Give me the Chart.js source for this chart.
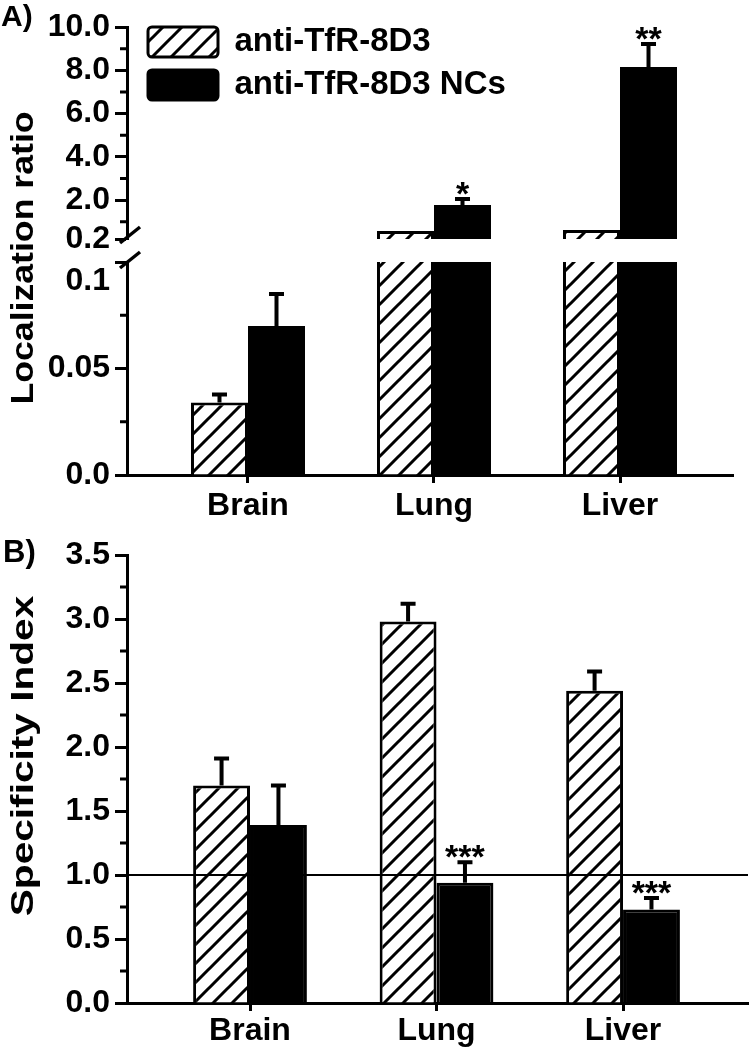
<!DOCTYPE html>
<html>
<head>
<meta charset="utf-8">
<script src="https://cdn.jsdelivr.net/npm/chart.js@4.4.1/dist/chart.umd.min.js"></script>
<style>
  body { margin: 0; background: #fff; }
  #wrap { position: relative; width: 749px; height: 1050px; overflow: hidden; }
  #wrap canvas { position: absolute; left: 0; top: 0; }
  .lbl { position: absolute; font-family: 'Liberation Sans', Arial, sans-serif; font-weight: bold; color: #000; white-space: nowrap; line-height: 1; }
</style>
</head>
<body>
<div id="wrap">
  <canvas id="chartA1" width="749" height="1050"></canvas>
  <canvas id="chartA2" width="749" height="1050"></canvas>
  <canvas id="chartB" width="749" height="1050"></canvas>
  <div class="lbl" style="left:1px; top:1px; font-size:30px;">A)</div>
  <div class="lbl" style="left:3px; top:536px; font-size:31px;">B)</div>
  <div class="lbl" style="left:22px; top:258px; font-size:31px; transform: translate(-50%,-50%) rotate(-90deg) scaleX(1.15);">Localization ratio</div>
  <div class="lbl" style="left:22px; top:756px; font-size:31px; transform: translate(-50%,-50%) rotate(-90deg) scaleX(1.31);">Specificity Index</div>
</div>
<script>
// categories and series
const organs = ['Brain', 'Lung', 'Liver'];
const seriesNames = ['anti-TfR-8D3', 'anti-TfR-8D3 NCs'];

// A) localization ratio (mean, SD, significance)
const locFree = [0.034, 0.57, 0.62];
const locFreeErr = [0.0038, 0, 0];
const locNC = [0.070, 1.77, 8.15];
const locNCErr = [0.015, 0.28, 1.06];
const locNCSig = ['', '*', '**'];

// B) specificity index
const specFree = [1.70, 2.98, 2.44];
const specFreeErr = [0.21, 0.14, 0.15];
const specNC = [1.39, 0.94, 0.73];
const specNCErr = [0.31, 0.16, 0.09];
const specNCSig = ['', '***', '***'];
const specRef = 1.0;

// y ticks (A is a broken axis: upper and lower part)
const ticksA1 = [0.2, 2, 4, 6, 8, 10];
const tickLabelsA1 = ['0.2', '2.0', '4.0', '6.0', '8.0', '10.0'];
const minorA1 = [1, 3, 5, 7, 9];
const ticksA2 = [0, 0.05, 0.1];
const tickLabelsA2 = ['0.0', '0.05', '0.1'];
const minorA2 = [0.025, 0.075];
const ticksB = [0, 0.5, 1, 1.5, 2, 2.5, 3, 3.5];
const tickLabelsB = ['0.0', '0.5', '1.0', '1.5', '2.0', '2.5', '3.0', '3.5'];
const minorB = [0.25, 0.75, 1.25, 1.75, 2.25, 2.75, 3.25];

Chart.defaults.font.family = "'Liberation Sans', Arial, sans-serif";
Chart.defaults.font.weight = 'bold';
Chart.defaults.color = '#000';
Chart.defaults.animation = false;

const pts = vals => vals.map((v, i) => ({ x: i + 1, y: v }));

// diagonal hatch fill
function hatch(ctx) {
    const s = 19;
    const c = document.createElement('canvas');
    c.width = s;
    c.height = s;
    const g = c.getContext('2d');
    g.fillStyle = '#fff';
    g.fillRect(0, 0, s, s);
    g.strokeStyle = '#000';
    g.lineWidth = 3;
    g.beginPath();
    g.moveTo(-3, s + 3); g.lineTo(s + 3, -3);
    g.moveTo(-3, 3); g.lineTo(3, -3);
    g.moveTo(s - 3, s + 3); g.lineTo(s + 3, s - 3);
    g.stroke();
    return ctx.createPattern(c, 'repeat');
}

function barSets(ctx, free, freeErr, nc, ncErr, ncSig, catPct) {
    const common = { borderColor: '#000', borderWidth: 3, clip: 0, categoryPercentage: catPct, barPercentage: 1 };
    return [
        Object.assign({ label: seriesNames[0], data: pts(free), errors: freeErr, stars: [], backgroundColor: hatch(ctx) }, common),
        Object.assign({ label: seriesNames[1], data: pts(nc), errors: ncErr, stars: ncSig, backgroundColor: '#000' }, common)
    ];
}

function xScale(min, max, show, pad) {
    return {
        type: 'linear', min: min, max: max, display: show, offset: false,
        afterBuildTicks: s => { s.ticks = organs.map((o, i) => ({ value: i + 1 })); },
        afterFit: s => { if (show) s.height = 47; },
        ticks: { callback: v => organs[v - 1], font: { size: 32 }, padding: pad, autoSkip: false, maxRotation: 0 },
        grid: { offset: false, drawOnChartArea: false, tickLength: 8, tickWidth: 3, tickColor: '#000' },
        border: { color: '#000', width: 3 }
    };
}

function yScale(min, max, ticks, labels, dropLast) {
    return {
        min: min, max: max,
        afterBuildTicks: s => { s.ticks = ticks.map(v => ({ value: v })); },
        afterFit: s => { s.width = 127; },
        ticks: {
            // the top label of the lower part sits a bit below its tick
            callback: (v, i) => (dropLast && i === labels.length - 1) ? ['', labels[i]] : labels[i],
            font: { size: 32 }, padding: 5, autoSkip: false
        },
        grid: { drawOnChartArea: false, tickLength: 12, tickWidth: 3, tickColor: '#000' },
        border: { color: '#000', width: 3 }
    };
}

// error bars (upward only) + significance stars
const errorBars = {
    id: 'errorBars',
    afterDatasetsDraw(chart) {
        const { ctx, chartArea: a, scales: { y } } = chart;
        ctx.save();
        ctx.beginPath();
        ctx.rect(a.left, a.top - 30, a.right - a.left, a.bottom - a.top + 30);
        ctx.clip();
        ctx.strokeStyle = '#000';
        ctx.fillStyle = '#000';
        ctx.lineWidth = 4;
        ctx.font = "bold 34px 'Liberation Sans', Arial, sans-serif";
        ctx.textAlign = 'center';
        chart.data.datasets.forEach((ds, d) => {
            if (!ds.errors) return;
            chart.getDatasetMeta(d).data.forEach((bar, i) => {
                const v = ds.data[i].y;
                if (v < y.min || v > y.max) return;
                const top = y.getPixelForValue(v + ds.errors[i]);
                if (ds.errors[i] > 0) {
                    ctx.beginPath();
                    ctx.moveTo(bar.x, bar.y);
                    ctx.lineTo(bar.x, top);
                    ctx.moveTo(bar.x - 7.5, top);
                    ctx.lineTo(bar.x + 7.5, top);
                    ctx.stroke();
                }
                if (ds.stars[i]) ctx.fillText(ds.stars[i], bar.x, top - 14 + 0.58 * 34);
            });
        });
        ctx.restore();
    }
};

// short unlabeled ticks between the major ones
const minorTicks = {
    id: 'minorTicks',
    afterDraw(chart, args, opts) {
        const { ctx, scales: { y } } = chart;
        ctx.save();
        ctx.strokeStyle = '#000';
        ctx.lineWidth = 3;
        ctx.beginPath();
        (opts.values || []).forEach(v => {
            const py = y.getPixelForValue(v);
            ctx.moveTo(y.right - 7, py);
            ctx.lineTo(y.right, py);
        });
        ctx.stroke();
        ctx.restore();
    }
};

const refLine = {
    id: 'refLine',
    afterDatasetsDraw(chart, args, opts) {
        const { ctx, chartArea: a, scales: { y } } = chart;
        const py = y.getPixelForValue(opts.value);
        ctx.save();
        ctx.strokeStyle = '#000';
        ctx.lineWidth = 2;
        ctx.beginPath();
        ctx.moveTo(a.left, py);
        ctx.lineTo(a.right, py);
        ctx.stroke();
        ctx.restore();
    }
};

// the two slashes of the axis break
const axisBreak = {
    id: 'axisBreak',
    afterDraw(chart) {
        const { ctx, chartArea: a, scales: { y } } = chart;
        ctx.save();
        ctx.strokeStyle = '#000';
        ctx.lineWidth = 3.5;
        [a.top - 2, a.top - 27].forEach(cy => {
            const cx = y.right + 3;
            ctx.beginPath();
            ctx.moveTo(cx - 10, cy + 8);
            ctx.lineTo(cx + 10, cy - 8);
            ctx.stroke();
        });
        ctx.restore();
    }
};

// put the legend in the top-left corner of the plot
const legendPlace = {
    id: 'legendPlace',
    afterLayout(chart) {
        const a = chart.chartArea;
        chart.legend.left = a.left + 11;
        chart.legend.top = a.top - 11.5;
        chart.legend.bottom = a.bottom;
    }
};

// A, upper part
const ctxA1 = document.getElementById('chartA1').getContext('2d');
new Chart(ctxA1, {
    type: 'bar',
    data: { datasets: barSets(ctxA1, locFree, locFreeErr, locNC, locNCErr, locNCSig, 0.613) },
    options: {
        responsive: false,
        events: [],
        layout: { padding: { left: 0, top: 27, right: 16, bottom: 811 } },
        scales: { x: xScale(0.3495, 3.6075, false, 4), y: yScale(0.2, 10, ticksA1, tickLabelsA1, false) },
        plugins: {
            tooltip: { enabled: false },
            minorTicks: { values: minorA1 },
            legend: {
                position: 'chartArea',
                align: 'start',
                labels: { boxWidth: 70, boxHeight: 30, padding: 10, useBorderRadius: true, borderRadius: 4, color: '#000', font: { size: 33 } }
            }
        }
    },
    plugins: [errorBars, minorTicks, legendPlace]
});

// A, lower part
const ctxA2 = document.getElementById('chartA2').getContext('2d');
new Chart(ctxA2, {
    type: 'bar',
    data: { datasets: barSets(ctxA2, locFree, locFreeErr, locNC, locNCErr, locNCSig, 0.613) },
    options: {
        responsive: false,
        events: [],
        layout: { padding: { left: 0, top: 262, right: 16, bottom: 528 } },
        scales: { x: xScale(0.3495, 3.6075, true, 4), y: yScale(0, 0.1, ticksA2, tickLabelsA2, true) },
        plugins: {
            tooltip: { enabled: false },
            legend: { display: false },
            minorTicks: { values: minorA2 }
        }
    },
    plugins: [errorBars, minorTicks, axisBreak]
});

// B
const ctxB = document.getElementById('chartB').getContext('2d');
new Chart(ctxB, {
    type: 'bar',
    data: { datasets: barSets(ctxB, specFree, specFreeErr, specNC, specNCErr, specNCSig, 0.61) },
    options: {
        responsive: false,
        events: [],
        layout: { padding: { left: 0, top: 555, right: 1, bottom: 0 } },
        scales: { x: xScale(0.3405, 3.670, true, 1), y: yScale(0, 3.5, ticksB, tickLabelsB, false) },
        plugins: {
            tooltip: { enabled: false },
            legend: { display: false },
            minorTicks: { values: minorB },
            refLine: { value: specRef }
        }
    },
    plugins: [refLine, errorBars, minorTicks]
});
</script>
</body>
</html>
